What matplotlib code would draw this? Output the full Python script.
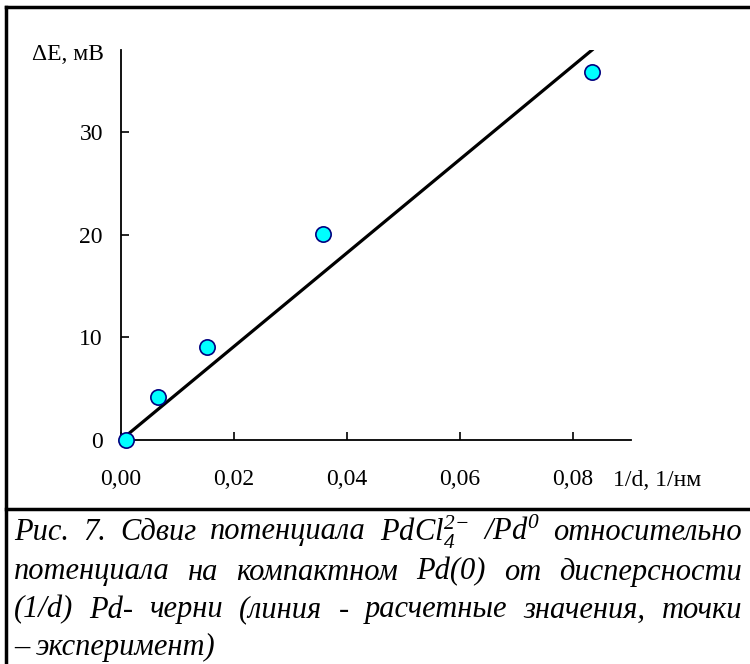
import matplotlib
matplotlib.use("Agg")
import matplotlib.pyplot as plt
from matplotlib.lines import Line2D

plt.rcParams['font.family'] = ['Liberation Serif', 'DejaVu Serif']
plt.rcParams['mathtext.fontset'] = 'custom'
plt.rcParams['mathtext.rm'] = 'Liberation Serif:italic'
plt.rcParams['mathtext.it'] = 'Liberation Serif:italic'

# experimental points
inv_d = [0.0009, 0.0065, 0.0152, 0.0358, 0.0834]
dE = [0.0, 4.2, 9.1, 20.1, 35.9]

# calculated line
line_x = [0.0, 0.0834]
line_y = [0.0, 38.0]

xticks = [0.0, 0.02, 0.04, 0.06, 0.08]
xticklabels = ['0,00', '0,02', '0,04', '0,06', '0,08']
yticks = [0, 10, 20, 30]

caption = [
    ['Рис.', '7.', 'Сдвиг', 'потенциала', r'$\mathrm{PdCl}_4^{2\!-}$', r'/$\mathrm{Pd}^0$', 'относительно'],
    ['потенциала', 'на', 'компактном', 'Pd(0)', 'от', 'дисперсности'],
    ['(1/d)', 'Pd-', 'черни', '(линия', '-', 'расчетные', 'значения,', 'точки'],
    ['–', 'эксперимент)'],
]

W, H = 750, 664
fig = plt.figure(figsize=(7.5, 6.64), dpi=100)
ax = fig.add_axes([121 / W, (H - 440) / H, 510 / W, 390 / H])

ax.plot(line_x, line_y, color='black', lw=2.3, zorder=2)
ax.plot(inv_d, dE, 'o', ms=11, mfc='#00FFFF', mec='#000080', mew=1.2,
        clip_on=False, zorder=3)

ax.set_xlim(0, 0.0903)
ax.set_ylim(0, 38.0)
ax.set_xticks(xticks)
ax.set_xticklabels(xticklabels)
ax.set_yticks(yticks)
for s in ['top', 'right']:
    ax.spines[s].set_visible(False)
for s in ['left', 'bottom']:
    ax.spines[s].set_linewidth(1.3)
ax.tick_params(direction='in', length=6, width=1.2, labelsize=17)
ax.tick_params(axis='x', pad=21)
ax.tick_params(axis='y', pad=13)

fig.text(32 / W, 1 - 55 / H, 'ΔE, мВ', fontsize=17, va='center', ha='left')
fig.text(613 / W, 1 - 480 / H, '1/d, 1/нм', fontsize=17, va='center', ha='left')

# frame and separator
fig.add_artist(Line2D([6 / W, 6 / W], [0, 1 - 7 / H], color='black', lw=2.5))
fig.add_artist(Line2D([6 / W, 1], [1 - 7 / H, 1 - 7 / H], color='black', lw=2.5))
fig.add_artist(Line2D([6 / W, 1], [1 - 509 / H, 1 - 509 / H], color='black', lw=2.5))

# justified italic caption
fs = 22
left, right = 14, 742
line_y_px = [532, 572, 610, 647]
renderer = fig.canvas.get_renderer()
for i, words in enumerate(caption):
    texts = [fig.text(0, 1 - line_y_px[i] / H, w, fontsize=fs, style='italic',
                      va='center', ha='left') for w in words]
    widths = [t.get_window_extent(renderer).width for t in texts]
    if i < len(caption) - 1:
        gap = max((right - left - sum(widths)) / (len(words) - 1), 3)
    else:
        gap = fs * 0.3
    x = left
    for t, w in zip(texts, widths):
        t.set_x(x / W)
        x += w + gap

fig.savefig('out.png', dpi=100)
